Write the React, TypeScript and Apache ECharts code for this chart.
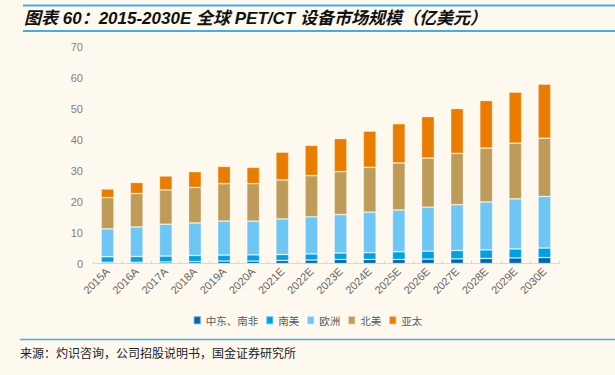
import React, { useEffect, useRef } from "react";
import * as echarts from "echarts";

const categories = [
  "2015A", "2016A", "2017A", "2018A", "2019A", "2020A", "2021E", "2022E",
  "2023E", "2024E", "2025E", "2026E", "2027E", "2028E", "2029E", "2030E",
];
const seriesNames = ["中东、南非", "南美", "欧洲", "北美", "亚太"];
const middleEastAfrica = [0.4, 0.4, 0.5, 0.6, 0.8, 0.8, 1.0, 1.1, 1.3, 1.3, 1.3, 1.4, 1.5, 1.6, 1.8, 1.9];
const southAmerica = [1.8, 1.9, 1.9, 2.0, 1.9, 2.0, 1.9, 2.0, 2.1, 2.2, 2.5, 2.6, 2.7, 2.8, 2.9, 3.1];
const europe = [9.0, 9.5, 10.3, 10.5, 11.0, 10.9, 11.5, 12.0, 12.4, 13.1, 13.5, 14.2, 14.8, 15.5, 16.2, 16.7];
const northAmerica = [10.1, 10.8, 11.1, 11.5, 12.1, 12.1, 12.6, 13.3, 13.9, 14.5, 15.2, 15.9, 16.6, 17.4, 18.0, 18.8];
const asiaPacific = [2.8, 3.6, 4.5, 5.1, 5.6, 5.3, 9.0, 9.8, 10.7, 11.7, 12.7, 13.4, 14.5, 15.4, 16.5, 17.5];
const colors = ["#0067b4", "#00a0e6", "#6dc6f3", "#bf9b5a", "#ea7d00"];
const titleText = "图表 60：2015-2030E 全球 PET/CT 设备市场规模（亿美元）";
const sourceText = "来源：灼识咨询，公司招股说明书，国金证券研究所";

export default function App() {
  const ref = useRef<HTMLDivElement>(null);
  useEffect(() => {
    if (!ref.current) return;
    const chart = echarts.init(ref.current, null, { renderer: "svg" });
    const data = [middleEastAfrica, southAmerica, europe, northAmerica, asiaPacific];
    const lineColor = "#3fb0e3";
    chart.setOption({
      animation: false,
      backgroundColor: "#fef9ef",
      color: colors,
      grid: { left: 93, right: 56, top: 47, bottom: 111.5 },
      legend: {
        data: seriesNames,
        left: "center",
        top: 310,
        itemWidth: 7,
        itemHeight: 8,
        itemGap: 7,
        icon: "rect",
        textStyle: { fontSize: 10.5, color: "#595959", fontFamily: "Noto Sans CJK SC" },
      },
      xAxis: {
        type: "category",
        data: categories,
        axisLine: { lineStyle: { color: "#d9d9d9", width: 1 } },
        axisTick: { show: true, inside: true, length: 3, lineStyle: { color: "#d9d9d9" } },
        axisLabel: {
          rotate: 45,
          fontSize: 11,
          color: "#666666",
          margin: 6,
          fontFamily: "Liberation Sans, Arial, sans-serif",
          interval: 0,
        },
      },
      yAxis: {
        type: "value",
        min: 0,
        max: 70,
        interval: 10,
        axisLine: { show: false },
        axisTick: { show: false },
        splitLine: { show: false },
        axisLabel: {
          fontSize: 11,
          color: "#808080",
          margin: 10,
          fontFamily: "Liberation Sans, Arial, sans-serif",
        },
      },
      series: seriesNames.map((name, i) => ({
        name,
        type: "bar",
        stack: "total",
        barWidth: "44%",
        data: data[i],
        itemStyle: { color: colors[i], borderColor: "rgba(255,255,255,0.35)", borderWidth: 0.8 },
      })),
      graphic: [
        { type: "line", shape: { x1: 23, y1: 5.5, x2: 615, y2: 5.5 }, style: { stroke: lineColor, lineWidth: 2 } },
        { type: "line", shape: { x1: 23, y1: 31, x2: 615, y2: 31 }, style: { stroke: lineColor, lineWidth: 2 } },
        { type: "line", shape: { x1: 20, y1: 339.5, x2: 615, y2: 339.5 }, style: { stroke: lineColor, lineWidth: 1.5 } },
        {
          type: "text",
          x: 24,
          y: 18.5,
          style: {
            text: titleText,
            fontSize: 17,
            fontWeight: "bold",
            fontStyle: "italic",
            fill: "#111111",
            fontFamily: "Liberation Sans, Noto Sans CJK SC, sans-serif",
            verticalAlign: "middle",
          },
        },
        {
          type: "text",
          x: 20,
          y: 352,
          style: {
            text: sourceText,
            fontSize: 12,
            fill: "#222222",
            fontFamily: "Noto Sans CJK SC, sans-serif",
            verticalAlign: "middle",
          },
        },
      ],
    });
    return () => chart.dispose();
  }, []);
  return (
    <div
      ref={ref}
      style={{ position: "fixed", left: 0, top: 0, width: 615, height: 375, background: "#fef9ef" }}
    />
  );
}
